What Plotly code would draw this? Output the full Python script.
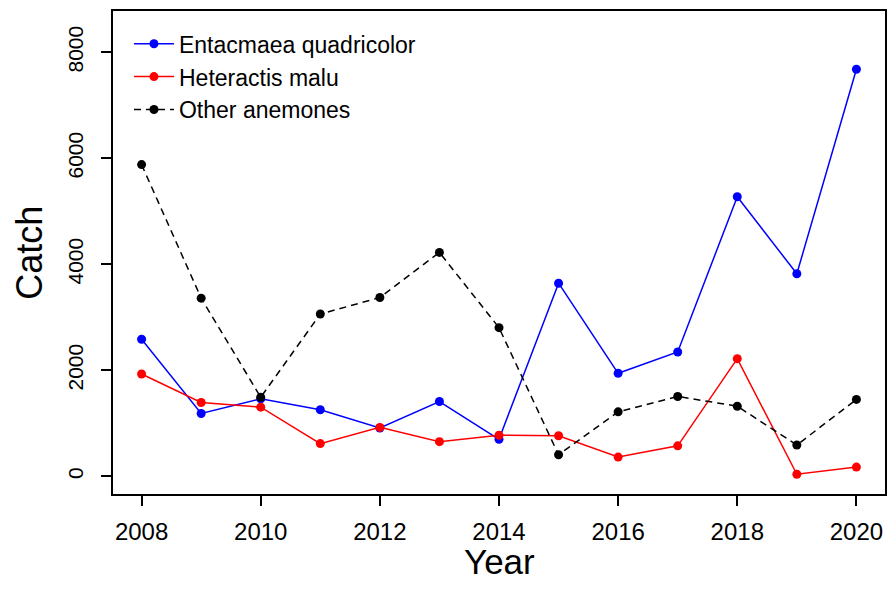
import plotly.graph_objects as go

# Catch by year
years = list(range(2008, 2021))
entacmaea = [2585, 1185, 1460, 1254, 910, 1410, 698, 3643, 1943, 2345, 5275, 3821, 7680]
heteractis = [1929, 1392, 1304, 616, 922, 653, 773, 765, 362, 574, 2219, 38, 173]
other = [5881, 3361, 1491, 3061, 3373, 4224, 2804, 405, 1216, 1506, 1322, 589, 1450]

x_ticks = [2008, 2010, 2012, 2014, 2016, 2018, 2020]
y_ticks = [0, 2000, 4000, 6000, 8000]

FONT = "Liberation Sans, Arial, sans-serif"

fig = go.Figure()

series = [
    ("Entacmaea quadricolor", entacmaea, "#0000FF", "solid"),
    ("Heteractis malu", heteractis, "#FF0000", "solid"),
    ("Other anemones", other, "#000000", "7px,5px"),
]
for name, values, color, dash in series:
    fig.add_trace(go.Scatter(
        x=years,
        y=values,
        mode="lines+markers",
        name=name,
        line=dict(color=color, width=1.5, dash=dash),
        marker=dict(color=color, size=9),
    ))

axis_common = dict(
    showgrid=False,
    zeroline=False,
    showline=True,
    mirror=True,
    linecolor="black",
    linewidth=1.5,
    ticks="outside",
    ticklen=10,
    tickwidth=1.5,
    tickcolor="black",
)

# the page body adds an 8px margin, so keep the figure inside 880x573
fig.update_layout(
    width=880,
    height=573,
    margin=dict(l=105, r=1, t=2, b=87),
    plot_bgcolor="white",
    paper_bgcolor="white",
    font=dict(family=FONT, color="black"),
    xaxis=dict(
        range=[2007.52, 2020.48],
        tickvals=x_ticks,
        tickfont=dict(size=24),
        ticklabelstandoff=5,
        **axis_common,
    ),
    yaxis=dict(
        range=[-335, 8780],
        tickvals=y_ticks,
        tickangle=-90,
        tickfont=dict(size=21),
        ticklabelstandoff=10,
        **axis_common,
    ),
    legend=dict(
        x=0.0207,
        y=0.9767,
        xanchor="left",
        yanchor="top",
        itemwidth=40,
        bgcolor="rgba(0,0,0,0)",
        font=dict(size=23),
    ),
    annotations=[
        dict(text="Year", x=0.5, y=-0.14, xref="paper", yref="paper",
             xanchor="center", yanchor="middle", showarrow=False,
             font=dict(size=35)),
        dict(text="Catch", x=-0.1085, y=0.5, xref="paper", yref="paper",
             xanchor="center", yanchor="middle", textangle=-90,
             showarrow=False, font=dict(size=36)),
    ],
)

fig.write_html("out.html")
